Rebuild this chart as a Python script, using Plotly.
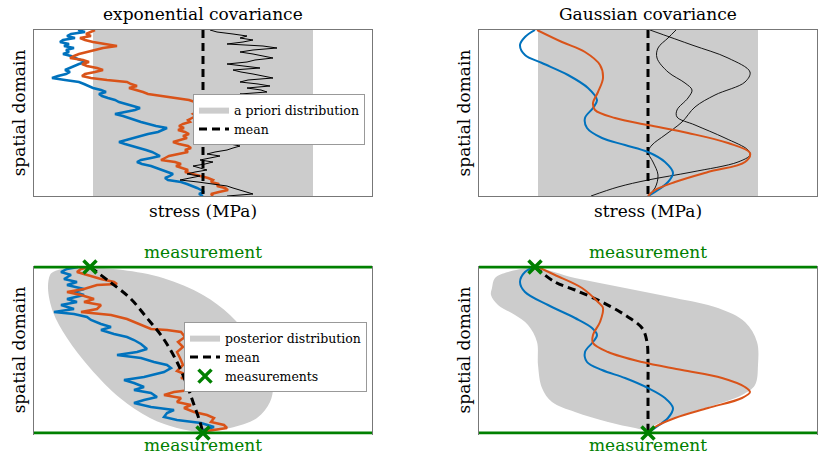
import plotly.graph_objects as go

# ---------------- data (stress relative to the mean, depth from top of spatial domain) -------------
BLUE, ORANGE, GRAY, GREEN = "#0072BD", "#D95319", "#CCCCCC", "#008000"

domain_len = 166          # spatial domain length (depth units)
stress_span = 169         # half width of the stress axis
prior_mean = 0
prior_band = [-110, 110]  # a priori distribution band

# exponential covariance, prior samples (depth grid every 2 units)
tl_depth = list(range(0, 167, 2))
tl_blue = [-125, -118, -132, -136, -128, -140, -143, -134, -139, -129,
           -137, -134, -140, -132, -128, -122, -117, -124, -129, -134,
           -138, -133, -137, -145, -151, -138, -124, -119, -114, -110,
           -102, -97, -104, -101, -95, -88, -84, -76, -70, -63,
           -68, -78, -88, -80, -73, -68, -62, -55, -47, -36,
           -40, -45, -55, -62, -70, -78, -84, -78, -70, -62,
           -57, -51, -46, -43, -52, -62, -66, -61, -52, -46,
           -40, -35, -30, -33, -38, -35, -22, -16, -10, -6,
           -2, 1, -4, 0]
tl_orange = [-108, -113, -117, -112, -123, -118, -110, -98, -86, -100,
             -109, -116, -124, -129, -133, -120, -114, -121, -116, -106,
             -100, -108, -118, -121, -112, -96, -76, -72, -66, -74,
             -66, -60, -55, -40, -26, -14, -8, -3, 2, -4,
             0, -6, -10, -7, -12, -15, -13, -20, -24, -19,
             -25, -18, -14, -20, -16, -22, -30, -24, -15, -12,
             -18, -15, -26, -34, -38, -42, -28, -22, -27, -20,
             -15, -18, -10, -2, 5, 10, 8, 16, 14, 22,
             25, 16, 8, 10]
tl_black = [7, 14, 30, 44, 37, 50, 40, 24, 60, 74,
            50, 37, 50, 62, 70, 52, 44, 24, 40, 57,
            30, 38, 50, 60, 70, 45, 37, 55, 67, 44,
            58, 64, 37, 48, 55, 42, 50, 58, 40, 47,
            45, 52, 38, 55, 48, 55, 42, 35, 48, 40,
            30, 24, 35, 44, 36, 30, 17, 28, 37, 30,
            24, 12, 4, 17, 8, -3, 10, 2, -10, -2,
            4, -8, -16, -3, -12, -23, -5, 8, 24, 30,
            37, 44, 50, 24]

# Gaussian covariance, prior samples
tr_blue_d = [0, 7, 15, 25, 33, 45, 58, 70, 78, 88, 98, 108, 115, 122, 132, 143, 152, 162, 166]
tr_blue_s = [-113, -123, -128, -123, -106, -80, -60, -51, -55, -63, -61, -46, -23, 0, 17, 25, 20, 7, 0]
tr_orange_d = [0, 12, 22, 35, 48, 62, 73, 80, 88, 95, 103, 113, 123, 132, 142, 152, 160, 166]
tr_orange_s = [-111, -86, -63, -48, -45, -50, -55, -53, -33, 0, 40, 80, 102, 97, 60, 27, 7, 0]
tr_black1_d = [0, 8, 18, 28, 42, 53, 60, 68, 80, 87, 95, 108, 120, 125, 132, 142, 150, 157, 166]
tr_black1_s = [28, 20, 10, 9, 20, 37, 44, 40, 29, 29, 47, 77, 100, 102, 90, 44, 0, -30, -57]
tr_black2_d = [0, 15, 28, 42, 52, 65, 77, 92, 105, 115, 122, 132, 145, 158, 166]
tr_black2_s = [2, 44, 80, 102, 97, 67, 47, 34, 17, 4, 0, 5, 10, 7, 0]

# measurements (top and bottom of the domain)
meas_d = [0, 166]
meas_s = [-113, 0]

# exponential covariance, posterior
bl_blob_s = [-153, -155, -150, -136, -113, -83, -53, -26, 0, 27, 54, 67, 70, 64, 47, 27, 0, -40, -80, -106, -136, -150]
bl_blob_d = [8, 21, 45, 71, 101, 131, 151, 161, 165, 161, 151, 135, 118, 98, 71, 48, 28, 11, 3, 1, 1, 5]
bl_mean_d = [0, 15, 31, 51, 71, 95, 118, 135, 155, 166]
bl_mean_s = [-113, -93, -73, -56, -40, -26, -16, -10, -3, 0]
bl_blue_d = [0, 2, 5, 8, 12, 15, 18, 22, 25, 28, 32, 35, 38, 42, 45, 47, 50, 53, 57, 60,
             63, 67, 70, 73, 77, 82, 85, 88, 91, 95, 98, 101, 105, 110, 113, 116, 120, 123, 126, 130,
             133, 136, 140, 143, 146, 150, 153, 156, 160, 163, 166]
bl_blue_s = [-125, -136, -142, -132, -139, -126, -136, -119, -129, -119, -136, -126, -142, -129, -149, -129, -116, -112, -102, -92,
             -102, -89, -76, -69, -62, -56, -66, -86, -62, -49, -36, -32, -39, -59, -79, -69, -59, -69, -52, -46,
             -59, -69, -52, -29, -36, -39, -26, -2, 11, 1, 0]
bl_orange_d = [0, 2, 5, 8, 12, 15, 17, 18, 22, 25, 28, 32, 35, 38, 42, 45, 48, 52, 55, 58,
               62, 63, 65, 70, 75, 80, 85, 91, 98, 104, 108, 111, 115, 118, 121, 125, 128, 131, 135, 138,
               141, 145, 148, 151, 155, 158, 161, 164, 166]
bl_orange_s = [-113, -122, -126, -116, -102, -89, -86, -106, -119, -136, -122, -109, -119, -102, -106, -122, -92, -76, -69, -62,
               -52, -36, -22, -18, -25, -20, -26, -23, -20, -26, -16, -22, -2, -12, 4, -29, -39, -22, -26, -12,
               -19, -9, 4, 11, 8, 21, 24, 4, 2]

# Gaussian covariance, posterior
br_blob_s = [-153, -140, -113, -73, -23, 27, 70, 97, 109, 110, 107, 94, 67, 34, 7, 0, -13, -40, -73, -96,
             -106, -110, -111, -120, -133, -150, -157, -156]
br_blob_d = [11, 5, 1, 11, 21, 31, 41, 55, 75, 98, 118, 128, 138, 148, 158, 163, 161, 155, 145, 135,
             121, 98, 75, 58, 48, 38, 28, 21]
br_mean_d = [0, 15, 23, 35, 48, 61, 75, 95, 121, 166]
br_mean_s = [-113, -93, -73, -46, -23, -6, -1, 0, 0, 0]
br_blue_d = [0, 5, 15, 25, 38, 51, 61, 68, 75, 85, 95, 103, 111, 121, 131, 141, 151, 161, 166]
br_blue_s = [-113, -123, -128, -123, -100, -73, -56, -51, -55, -63, -61, -46, -23, 0, 17, 25, 20, 7, 0]
br_orange_d = [0, 8, 21, 35, 41, 55, 68, 76, 85, 95, 103, 111, 120, 125, 131, 141, 151, 160, 166]
br_orange_s = [-110, -93, -66, -50, -45, -48, -55, -55, -40, -6, 34, 74, 97, 102, 94, 60, 27, 7, 0]

# ---------------- figure ----------------
W, H = 830, 460
FONT = "DejaVu Serif"
fig = go.Figure()


def ax(n):
    return ("x" if n == 1 else f"x{n}"), ("y" if n == 1 else f"y{n}")


def band_trace(n, name, legend):
    xa, ya = ax(n)
    lo, hi = prior_band
    return go.Scatter(x=[lo, hi, hi, lo, lo], y=[0, 0, domain_len, domain_len, 0],
                      fill="toself", fillcolor=GRAY, line=dict(width=0), mode="lines",
                      name=name, xaxis=xa, yaxis=ya, legend=legend, showlegend=legend is not None,
                      hoverinfo="skip")


def line(n, s, d, color, width, shape="linear", dash=None, name=None, legend=None):
    xa, ya = ax(n)
    return go.Scatter(x=s, y=d, mode="lines", line=dict(color=color, width=width, shape=shape, dash=dash),
                      xaxis=xa, yaxis=ya, name=name, showlegend=name is not None, legend=legend)


def blob(n, s, d, name, legend):
    xa, ya = ax(n)
    return go.Scatter(x=s + s[:1], y=d + d[:1], mode="lines", fill="toself", fillcolor=GRAY,
                      line=dict(width=0, shape="spline", smoothing=1.0, color=GRAY),
                      xaxis=xa, yaxis=ya, name=name, showlegend=legend is not None, legend=legend)


def meas_lines(n):
    xa, ya = ax(n)
    out = []
    for dd in meas_d:
        out.append(go.Scatter(x=[-stress_span, stress_span], y=[dd, dd], mode="lines",
                              line=dict(color=GREEN, width=3), xaxis=xa, yaxis=ya, showlegend=False))
    return out


def markers(n, legend=None):
    xa, ya = ax(n)
    return go.Scatter(x=meas_s, y=meas_d, mode="markers", cliponaxis=False,
                      marker=dict(symbol="x-thin", size=13, line=dict(color=GREEN, width=3.5), color=GREEN),
                      xaxis=xa, yaxis=ya, name="measurements", showlegend=legend is not None, legend=legend)


mean_dash = "8px,5px"

# top-left
fig.add_trace(band_trace(1, "a priori distribution", "legend"))
fig.add_trace(line(1, tl_blue, tl_depth, BLUE, 2.5))
fig.add_trace(line(1, tl_orange, tl_depth, ORANGE, 2.5))
fig.add_trace(line(1, [prior_mean, prior_mean], [0, domain_len], "black", 3, dash=mean_dash, name="mean", legend="legend"))
fig.add_trace(line(1, tl_black, tl_depth, "black", 1))

# top-right
fig.add_trace(band_trace(2, None, None))
fig.add_trace(line(2, tr_black1_s, tr_black1_d, "black", 0.9, "spline"))
fig.add_trace(line(2, tr_black2_s, tr_black2_d, "black", 0.9, "spline"))
fig.add_trace(line(2, [prior_mean, prior_mean], [0, domain_len], "black", 3, dash=mean_dash))
fig.add_trace(line(2, tr_blue_s, tr_blue_d, BLUE, 2, "spline"))
fig.add_trace(line(2, tr_orange_s, tr_orange_d, ORANGE, 2, "spline"))

# bottom-left
fig.add_trace(blob(3, bl_blob_s, bl_blob_d, "posterior distribution", "legend2"))
fig.add_trace(line(3, bl_blue_s, bl_blue_d, BLUE, 2.5))
fig.add_trace(line(3, bl_orange_s, bl_orange_d, ORANGE, 2.5))
fig.add_trace(line(3, bl_mean_s, bl_mean_d, "black", 3, "spline", dash=mean_dash, name="mean", legend="legend2"))
for t in meas_lines(3):
    fig.add_trace(t)
fig.add_trace(markers(3, "legend2"))

# bottom-right
fig.add_trace(blob(4, br_blob_s, br_blob_d, None, None))
fig.add_trace(line(4, br_mean_s, br_mean_d, "black", 3, "spline", dash=mean_dash))
fig.add_trace(line(4, br_blue_s, br_blue_d, BLUE, 2, "spline"))
fig.add_trace(line(4, br_orange_s, br_orange_d, ORANGE, 2, "spline"))
for t in meas_lines(4):
    fig.add_trace(t)
fig.add_trace(markers(4))

# ---------------- layout ----------------
def xdom(a, b):
    return [a / W, b / W]


def ydom(top, bottom):
    return [1 - bottom / H, 1 - top / H]


pad = 1.5
common = dict(showgrid=False, zeroline=False, showticklabels=False, ticks="",
              linecolor="#777777", linewidth=1, mirror=True, automargin=False)
xr = [-stress_span, stress_span]

layout_axes = {}
panels = {
    1: (xdom(34, 372), ydom(30, 196), [domain_len, 0], True),
    2: (xdom(479, 817), ydom(30, 196), [domain_len, 0], True),
    3: (xdom(34, 372), ydom(30 + 237 - pad, 196 + 237 + pad), [domain_len + pad, -pad], False),
    4: (xdom(479, 817), ydom(30 + 237 - pad, 196 + 237 + pad), [domain_len + pad, -pad], False),
}
TSIZE = 17
for n, (xd, yd, yr, top) in panels.items():
    xa, ya = ax(n)
    xkey = "xaxis" if n == 1 else f"xaxis{n}"
    ykey = "yaxis" if n == 1 else f"yaxis{n}"
    xt = dict(text="stress (MPa)", font=dict(size=TSIZE), standoff=9) if top else None
    layout_axes[xkey] = dict(common, domain=xd, range=xr, anchor=ya, showline=top,
                             title=xt)
    layout_axes[ykey] = dict(common, domain=yd, range=yr, anchor=xa, showline=True,
                             title=dict(text="spatial domain", font=dict(size=TSIZE), standoff=3))

fig.update_layout(**layout_axes)

annotations = [
    dict(text="exponential covariance", xref="x domain", x=0.5, yref="paper", y=1 - 14 / H),
    dict(text="Gaussian covariance", xref="x2 domain", x=0.5, yref="paper", y=1 - 14 / H),
]
for n in (3, 4):
    xa, ya = ax(n)
    annotations.append(dict(text="measurement", xref=f"{xa} domain", x=0.5, yref=ya, y=meas_d[0],
                            yanchor="bottom", yshift=3, font=dict(color=GREEN, size=TSIZE)))
    annotations.append(dict(text="measurement", xref=f"{xa} domain", x=0.5, yref=ya, y=meas_d[1],
                            yanchor="top", yshift=0, font=dict(color=GREEN, size=TSIZE)))
for a in annotations:
    a.setdefault("showarrow", False)
    a.setdefault("font", dict(size=TSIZE))
    a.setdefault("xanchor", "center")
    a.setdefault("yanchor", "middle")

legend_style = dict(xanchor="left", yanchor="top", bgcolor="white", bordercolor="#999999",
                    borderwidth=1, font=dict(size=12.5, family=FONT), tracegroupgap=0)
fig.update_layout(
    width=W, height=H, margin=dict(l=0, r=0, t=0, b=0),
    paper_bgcolor="white", plot_bgcolor="white",
    font=dict(family=FONT, size=TSIZE, color="black"),
    annotations=annotations,
    legend=dict(legend_style, x=193 / W, y=1 - 94 / H),
    legend2=dict(legend_style, x=184 / W, y=1 - 322 / H),
)

fig.write_html("out.html", config={"displayModeBar": False},
               post_script="document.body.style.margin='0';")
